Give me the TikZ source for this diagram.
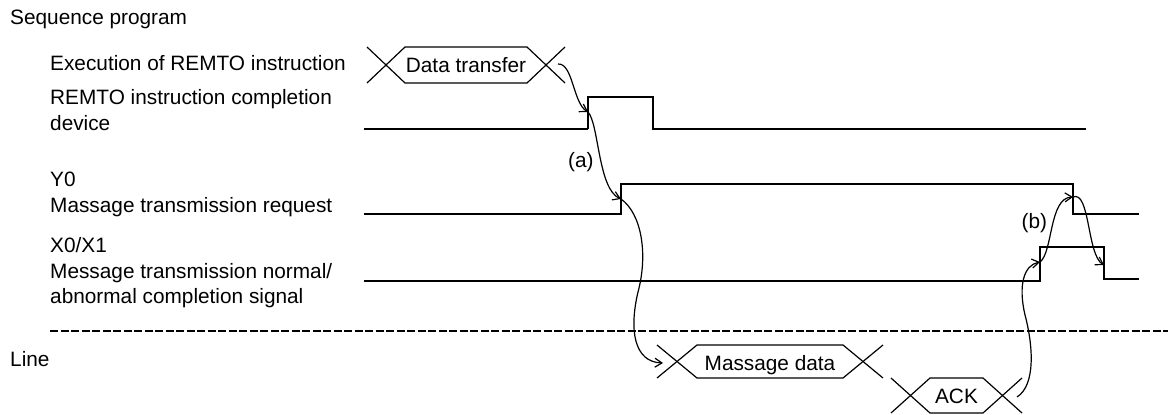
\documentclass[tikz,border=0pt]{standalone}
\usepackage{fontspec}
\setmainfont{Liberation Sans}
\usetikzlibrary{arrows.meta}
\begin{document}
\begin{tikzpicture}[x=1pt,y=-1pt,
  txt/.style={anchor=base west, inner sep=0pt, font=\fontsize{20.8}{25}\selectfont},
  ctxt/.style={anchor=base, inner sep=0pt, font=\fontsize{20.8}{25}\selectfont},
  sig/.style={line width=1.3pt, line join=miter, line cap=butt},
  boldsig/.style={line width=2.4pt, line cap=butt},
  hexa/.style={line width=1.2pt, line join=miter},
  sep/.style={line width=1.6pt, dash pattern=on 8pt off 2.5pt},
  flow/.style={line width=1.2pt, -{Straight Barb[length=7pt,width=9pt,line width=1.2pt]}},
]
\useasboundingbox (0,0) rectangle (1168,415);

% ---- labels ----
\node[txt] (seq)  at (10,24)    {Sequence program};
\node[txt] (exe)  at (50,70.7)  {Execution of REMTO instruction};
\node[txt] (cd1)  at (50,104.5) {REMTO instruction completion};
\node[txt] (cd2)  at (50,130.5) {device};
\node[txt] (y0a)  at (50,186.7) {Y0};
\node[txt] (y0b)  at (50,212)   {Massage transmission request};
\node[txt] (x0a)  at (50,252.7) {X0/X1};
\node[txt] (x0b)  at (50,278)   {Message transmission normal/};
\node[txt] (x0c)  at (50,303.5) {abnormal completion signal};
\node[txt] (line) at (10,366.7) {Line};
\node[txt] (la)   at (568,167.5) {(a)};
\node[txt] (lb)   at (1021.5,228) {(b)};

% ---- data transfer hexagon ----
\draw[hexa] (367,47) -- (405,83) -- (527,83) -- (565,47);
\draw[hexa] (367,83) -- (405,47) -- (527,47) -- (565,83);
\node[ctxt] (dt) at (466,72) {Data transfer};

% ---- massage data hexagon ----
\draw[hexa] (657,345) -- (697,378) -- (843,378) -- (883,345);
\draw[hexa] (657,378) -- (697,345) -- (843,345) -- (883,378);
\node[ctxt] (md) at (770,370) {Massage data};

% ---- ACK hexagon ----
\draw[hexa] (891,378) -- (930,413) -- (983,413) -- (1022,378);
\draw[hexa] (891,413) -- (930,378) -- (983,378) -- (1022,413);
\node[ctxt] (ack) at (956.5,403) {ACK};

% ---- signal key points ----
\coordinate (cdR) at (588,129);
\coordinate (cdE) at (588,112);
\coordinate (y0R) at (621,214);
\coordinate (y0E) at (621,199);
\coordinate (y0F) at (1073,184);
\coordinate (y0G) at (1073,197);
\coordinate (x0R) at (1040,281);
\coordinate (x0E) at (1040,262);
\coordinate (x0F) at (1104,247);
\coordinate (x0G) at (1104,265);
\coordinate (dtS) at (558,64);
\coordinate (mdE) at (663,363);
\coordinate (ackS) at (1017,397);

% ---- REMTO completion device ----
\draw[boldsig] (364,129) -- (cdR);
\draw[sig] (cdR) -- (588,97) -- (653,97) -- (653,129) -- (1086,129);

% ---- Y0 ----
\draw[sig] (364,214) -- (y0R) -- (621,184) -- (y0F) -- (1073,214) -- (1139,214);

% ---- X0/X1 ----
\draw[sig] (364,281) -- (x0R) -- (1040,247) -- (x0F) -- (1104,279) -- (1139,279);

% ---- separator ----
\draw[sep] (50,331) -- (1168,331);

% ---- flow arrows ----
\draw[flow] (dtS) .. controls (573,63) and (573,103) .. (cdE);
\draw[flow] (cdE) .. controls (599,124) and (598,189) .. (y0E);
\draw[flow] (y0E) .. controls (642,214) and (648,255) .. (638,292)
                  .. controls (629,330) and (634,362) .. (mdE);
\draw[flow] (ackS) .. controls (1036,385) and (1033,345) .. (1025,315)
                   .. controls (1018,285) and (1024,265) .. (x0E);
\draw[flow] (x0E) .. controls (1053,252) and (1049,198) .. (y0G);
\draw[flow] (y0G) .. controls (1090,190) and (1087,255) .. (x0G);
\end{tikzpicture}
\end{document}
